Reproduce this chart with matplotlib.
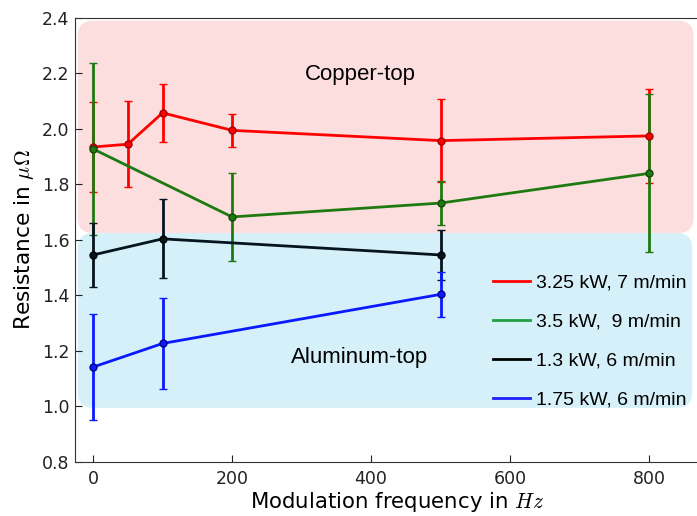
import matplotlib
matplotlib.use('Agg')
import matplotlib.pyplot as plt
from matplotlib.patches import FancyBboxPatch
from matplotlib.lines import Line2D

plt.rcParams['mathtext.fontset'] = 'cm'

# data
freq_red = [0, 50, 100, 200, 500, 800]
res_red = [1.935, 1.945, 2.058, 1.995, 1.958, 1.975]
err_red = [0.162, 0.155, 0.105, 0.06, 0.15, 0.17]

freq_green = [0, 200, 500, 800]
res_green = [1.928, 1.683, 1.733, 1.84]
err_green = [0.31, 0.16, 0.08, 0.285]

freq_black = [0, 100, 500]
res_black = [1.546, 1.604, 1.546]
err_black = [0.115, 0.142, 0.09]

freq_blue = [0, 100, 500]
res_blue = [1.142, 1.227, 1.404]
err_blue = [0.192, 0.163, 0.08]

labels = ['3.25 kW, 7 m/min', '3.5 kW,  9 m/min', '1.3 kW, 6 m/min', '1.75 kW, 6 m/min']
colors = ['#ff0000', '#1e7a10', '#05141e', '#0a1aff']
edge_colors = ['#a00000', '#124a08', '#000000', '#00008a']
legend_colors = ['#ff0000', '#20a040', '#000000', '#2020ff']

fig = plt.figure(figsize=(6.97, 5.16), dpi=100)
ax = fig.add_axes([0.1076, 0.1047, 0.9234, 0.8605])

# shaded regions (rounded boxes), aspect = y-units per px / x-units per px
asp = 0.695 / 277.5
pink = FancyBboxPatch((-22, 1.625), 886, 0.765, boxstyle='round,pad=0,rounding_size=22',
                      mutation_aspect=asp, fc='#fcdede', ec='none', zorder=0)
blue = FancyBboxPatch((-22, 0.995), 884, 0.63, boxstyle='round,pad=0,rounding_size=22',
                      mutation_aspect=asp, fc='#d6f0fa', ec='none', zorder=0)
ax.add_patch(pink)
ax.add_patch(blue)

series = [(freq_red, res_red, err_red), (freq_green, res_green, err_green),
          (freq_black, res_black, err_black), (freq_blue, res_blue, err_blue)]
for (x, y, e), c, ec in zip(series, colors, edge_colors):
    ax.errorbar(x, y, yerr=e, color=c, lw=2, elinewidth=2, capsize=3, capthick=1,
                marker='o', ms=5, mec=ec, mfc=c, zorder=3)

ax.text(384, 2.195, 'Copper-top', ha='center', va='center', fontsize=16, family='Liberation Sans')
ax.text(384, 1.178, 'Aluminum-top', ha='center', va='center', fontsize=16, family='Liberation Sans')

handles = [Line2D([], [], color=c, lw=2) for c in legend_colors]
ax.legend(handles, labels, loc='lower left', bbox_to_anchor=(0.622, 0.08), frameon=False,
          prop={'family': 'Liberation Sans', 'size': 14}, handlelength=1.9,
          handletextpad=0.3, labelspacing=1.1)

ax.set_xticks([0, 200, 400, 600, 800, 1000])
ax.set_yticks([0.8, 1.0, 1.2, 1.4, 1.6, 1.8, 2.0, 2.2, 2.4])
ax.set_xlim(-26, 900)
ax.set_ylim(0.8, 2.4)
ax.tick_params(direction='in', labelsize=12.5, length=5, top=False, right=True,
               colors='#222222')
ax.tick_params(axis='y', pad=4)
ax.tick_params(axis='x', pad=6)
for s in ax.spines.values():
    s.set_color('#333333')
ax.set_xlabel('Modulation frequency in $Hz$', fontsize=15.3, labelpad=1)
ax.set_ylabel(r'Resistance in $\mu\Omega$', fontsize=15.6)

fig.savefig('out.png', dpi=100)
